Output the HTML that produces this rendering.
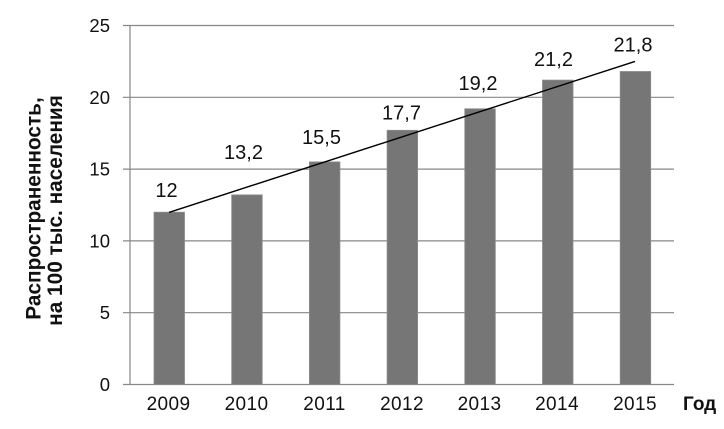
<!DOCTYPE html>
<html>
<head>
<meta charset="utf-8">
<style>
html,body{margin:0;padding:0;background:#fff;}
svg{display:block;}
text{font-family:"Liberation Sans","DejaVu Sans",sans-serif;fill:#111;}
</style>
</head>
<body>
<svg width="724" height="429" viewBox="0 0 724 429" xmlns="http://www.w3.org/2000/svg">
  <rect x="0" y="0" width="724" height="429" fill="#fff"/>
  <!-- gridlines + ticks -->
  <g stroke="#878787" stroke-width="1.2" fill="none">
    <line x1="123" y1="25.5" x2="674" y2="25.5"/>
    <line x1="123" y1="97.3" x2="674" y2="97.3"/>
    <line x1="123" y1="169.1" x2="674" y2="169.1"/>
    <line x1="123" y1="240.9" x2="674" y2="240.9"/>
    <line x1="123" y1="312.7" x2="674" y2="312.7"/>
    <line x1="123" y1="384.5" x2="674" y2="384.5"/>
    <line x1="130" y1="25.5" x2="130" y2="384.5"/>
  </g>
  <!-- bars -->
  <g fill="#767676" stroke="#8a8a8a" stroke-width="0.8">
    <rect x="154" y="212.2" width="30.5" height="172.3"/>
    <rect x="231.7" y="194.9" width="30.5" height="189.6"/>
    <rect x="309.4" y="161.9" width="30.5" height="222.6"/>
    <rect x="387.1" y="130.3" width="30.5" height="254.2"/>
    <rect x="464.8" y="108.8" width="30.5" height="275.7"/>
    <rect x="542.5" y="80.1" width="30.5" height="304.4"/>
    <rect x="620.2" y="71.5" width="30.5" height="313.0"/>
  </g>
  <!-- trend line -->
  <line x1="169" y1="212.4" x2="635" y2="61.4" stroke="#000" stroke-width="1.4"/>
  <!-- data labels -->
  <g font-size="20" text-anchor="middle">
    <text x="166.5" y="197">12</text>
    <text x="243.5" y="159">13,2</text>
    <text x="321.5" y="144">15,5</text>
    <text x="401.5" y="119.5">17,7</text>
    <text x="478" y="90">19,2</text>
    <text x="553.5" y="66">21,2</text>
    <text x="633" y="51.5">21,8</text>
  </g>
  <!-- y tick labels -->
  <g font-size="18.5" text-anchor="end">
    <text x="110" y="32">25</text>
    <text x="110" y="103.8">20</text>
    <text x="110" y="175.6">15</text>
    <text x="110" y="247.4">10</text>
    <text x="110" y="319.2">5</text>
    <text x="110" y="391">0</text>
  </g>
  <!-- x tick labels -->
  <g font-size="19" text-anchor="middle" letter-spacing="0.4">
    <text x="168.5" y="410">2009</text>
    <text x="246.5" y="410">2010</text>
    <text x="324.5" y="410">2011</text>
    <text x="402" y="410">2012</text>
    <text x="479.5" y="410">2013</text>
    <text x="557" y="410">2014</text>
    <text x="635" y="410">2015</text>
  </g>
  <text x="683" y="410" font-size="19" font-weight="bold">Год</text>
  <!-- y axis title -->
  <text transform="translate(40.5,208.5) rotate(-90)" text-anchor="middle" font-size="20.8" font-weight="bold">Распространенность,</text>
  <text transform="translate(62,210.5) rotate(-90)" text-anchor="middle" font-size="20.8" font-weight="bold">на 100 тыс. населения</text>
</svg>
</body>
</html>
